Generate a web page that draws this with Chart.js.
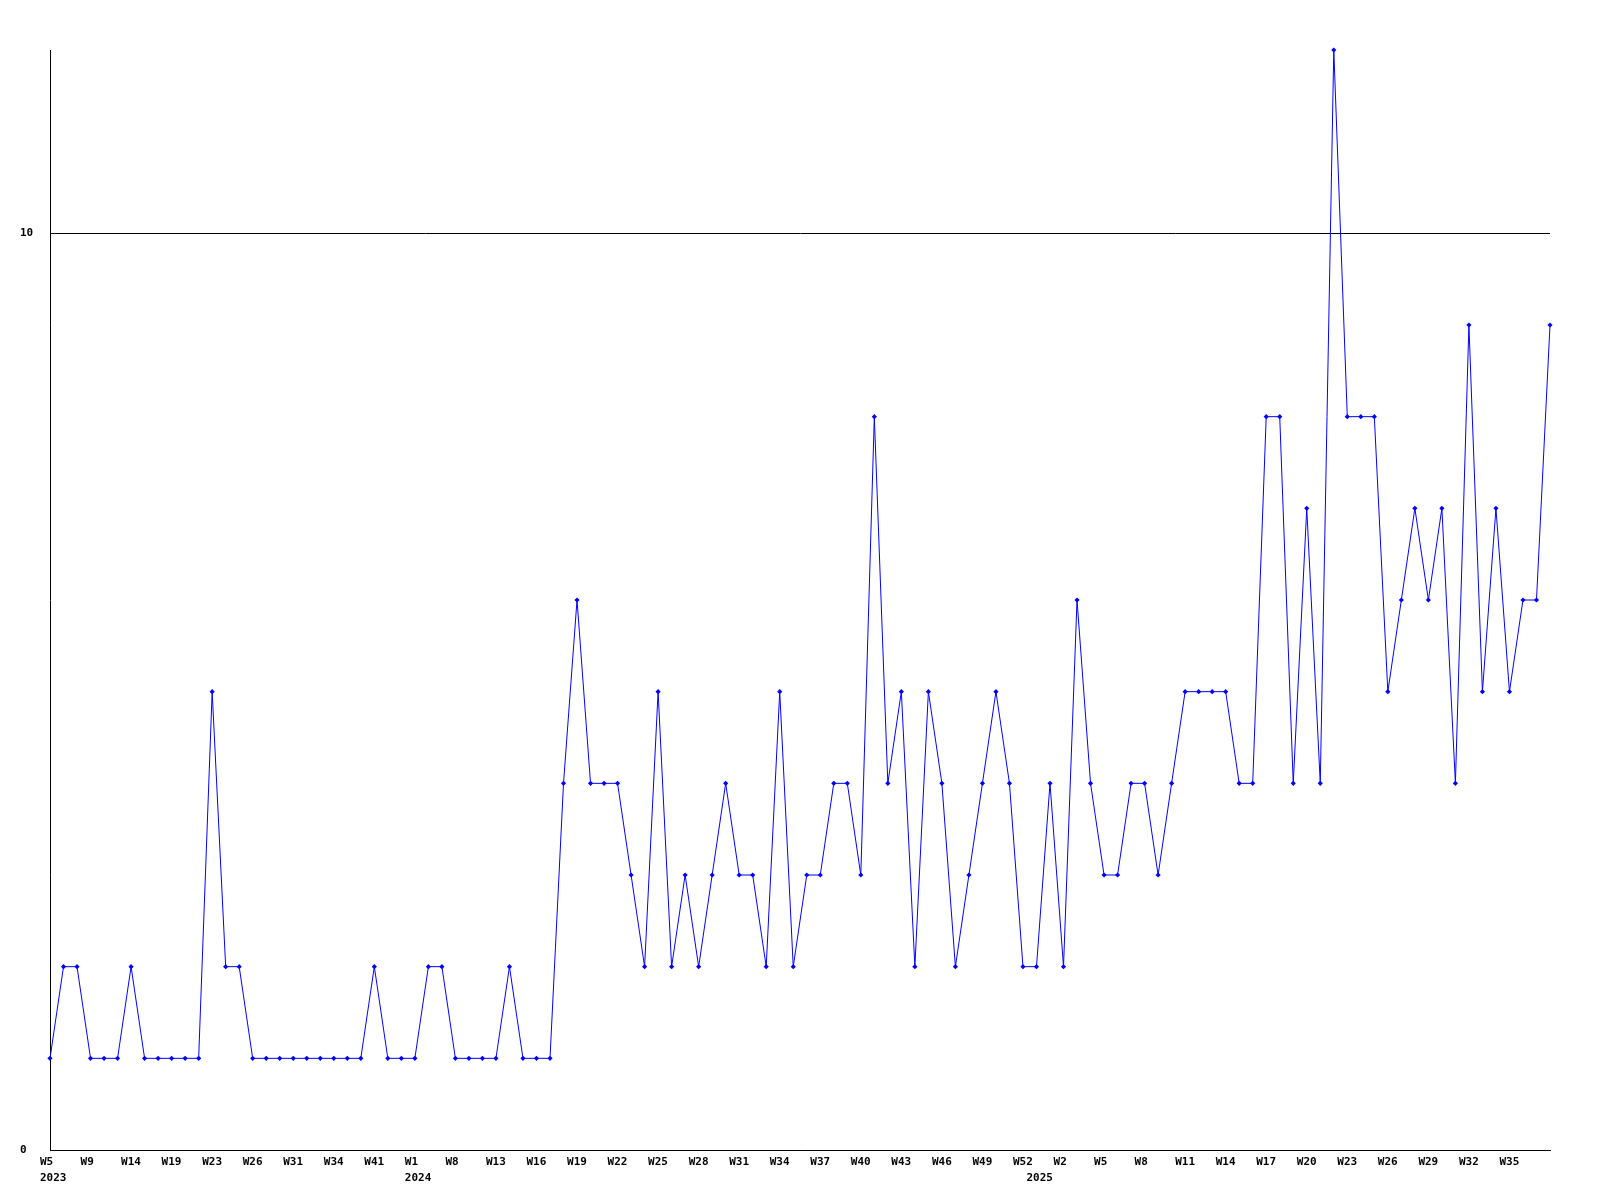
<!DOCTYPE html>
<html>
<head>
<meta charset="utf-8">
<script src="https://cdn.jsdelivr.net/npm/chart.js@4.4.1/dist/chart.umd.min.js"></script>
<style>
  body { margin: 0; background: #fff; }
  #wrap { width: 1600px; height: 1200px; }
</style>
</head>
<body>
<div id="wrap"><canvas id="weekChart" width="1600" height="1200"></canvas></div>
<script>
// Week labels (weeks with no entries are missing in 2023 / early 2024)
const weeks = [
    'W5', 'W6', 'W8', 'W9', 'W11', 'W12', 'W14', 'W16', 'W17', 'W19',
    'W20', 'W22', 'W23', 'W24', 'W25', 'W26', 'W28', 'W29', 'W31', 'W32',
    'W33', 'W34', 'W36', 'W38', 'W41', 'W44', 'W48',
    'W1', 'W3', 'W6', 'W8', 'W9', 'W11', 'W13', 'W14', 'W15', 'W16',
    'W17', 'W18', 'W19', 'W20', 'W21', 'W22', 'W23', 'W24', 'W25', 'W26',
    'W27', 'W28', 'W29', 'W30', 'W31', 'W32', 'W33', 'W34', 'W35', 'W36',
    'W37', 'W38', 'W39', 'W40', 'W41', 'W42', 'W43', 'W44', 'W45', 'W46',
    'W47', 'W48', 'W49', 'W50', 'W51', 'W52',
    'W1', 'W1', 'W2', 'W3', 'W4', 'W5', 'W6', 'W7', 'W8', 'W9', 'W10',
    'W11', 'W12', 'W13', 'W14', 'W15', 'W16', 'W17', 'W18', 'W19', 'W20',
    'W21', 'W22', 'W23', 'W24', 'W25', 'W26', 'W27', 'W28', 'W29', 'W30',
    'W31', 'W32', 'W33', 'W34', 'W35', 'W36', 'W37', 'W38'
];

// index where a new year starts -> year label
const yearIdx = [0, 27, 73];
const yearNames = ['2023', '2024', '2025'];

const counts = [
    1, 2, 2, 1, 1, 1, 2, 1, 1, 1,
    1, 1, 5, 2, 2, 1, 1, 1, 1, 1,
    1, 1, 1, 1, 2, 1, 1, 1, 2, 2,
    1, 1, 1, 1, 2, 1, 1, 1, 4, 6,
    4, 4, 4, 3, 2, 5, 2, 3, 2, 3,
    4, 3, 3, 2, 5, 2, 3, 3, 4, 4,
    3, 8, 4, 5, 2, 5, 4, 2, 3, 4,
    5, 4, 2, 2, 4, 2, 6, 4, 3, 3,
    4, 4, 3, 4, 5, 5, 5, 5, 4, 4,
    8, 8, 4, 7, 4, 12, 8, 8, 8, 5,
    6, 7, 6, 7, 4, 9, 5, 7, 5, 6,
    6, 9
];

const yTicks = [0, 10];

const axisFont = { family: "'DejaVu Sans Mono', monospace", size: 11, weight: 'bold', lineHeight: 1.45 };

new Chart(document.getElementById('weekChart'), {
    type: 'line',
    data: {
        labels: weeks,
        datasets: [{
            data: counts,
            borderColor: '#0000FF',
            backgroundColor: '#0000FF',
            borderWidth: 1,
            tension: 0,
            pointStyle: 'rectRot',
            pointRadius: 2.6,
            pointBorderWidth: 0,
            clip: false
        }]
    },
    options: {
        responsive: false,
        animation: false,
        layout: { padding: { left: 20, top: 50, right: 50, bottom: 0 } },
        plugins: {
            legend: { display: false },
            tooltip: { enabled: false }
        },
        scales: {
            x: {
                grid: { display: false, drawTicks: false },
                border: { display: true, color: '#000', width: 1 },
                afterFit: (scale) => { scale.height = 50; },
                ticks: {
                    autoSkip: false,
                    maxRotation: 0,
                    minRotation: 0,
                    align: 'start',
                    labelOffset: -10,
                    padding: 4,
                    color: '#000',
                    font: axisFont,
                    callback: (val, i) => {
                        const showWeek = i % 3 === 0 && i < weeks.length - 1;
                        const y = yearIdx.indexOf(i);
                        if (y >= 0) return [showWeek ? weeks[i] : '', yearNames[y]];
                        return showWeek ? weeks[i] : '';
                    }
                }
            },
            y: {
                min: 0,
                max: 12,
                afterBuildTicks: (scale) => { scale.ticks = yTicks.map(v => ({ value: v })); },
                afterFit: (scale) => { scale.width = 30; },
                grid: { color: '#000', lineWidth: 1, drawTicks: false },
                border: { display: true, color: '#000', width: 1 },
                ticks: {
                    crossAlign: 'far',
                    padding: 0,
                    color: '#000',
                    font: axisFont
                }
            }
        }
    }
});
</script>
</body>
</html>
